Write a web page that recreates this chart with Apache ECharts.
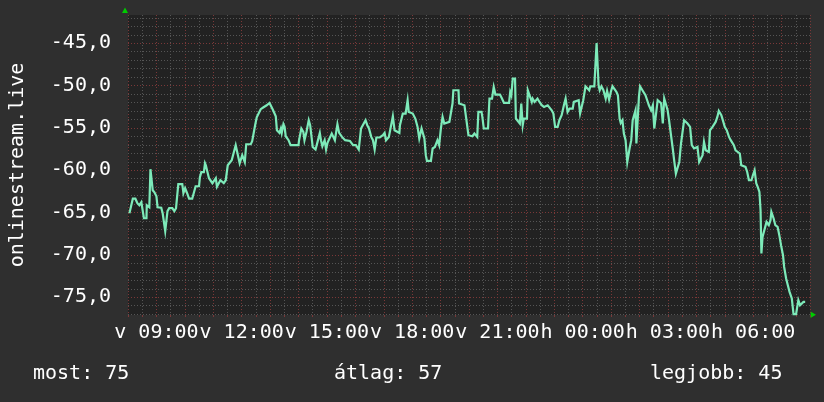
<!DOCTYPE html>
<html><head><meta charset="utf-8">
<script src="https://cdn.jsdelivr.net/npm/echarts@6/dist/echarts.min.js"></script>
<style>html,body{margin:0;padding:0;background:#2f2f2f;}#c{width:824px;height:402px;}</style>
</head><body><div id="c"></div>
<script>
// [hour since 00:00 of first day, value]
const samples = [
[8.05,-65.08],[8.12,-65.08],[8.17,-63.36],[8.26,-63.36],[8.33,-63.89],[8.40,-64.13],[8.47,-63.78],[8.52,-63.89],
[8.56,-65.67],[8.65,-65.67],[8.66,-64.13],[8.75,-64.37],[8.79,-59.88],[8.84,-60.0],[8.87,-62.36],[8.93,-62.6],
[9.00,-63.07],[9.04,-64.37],[9.17,-64.43],[9.22,-65.08],[9.28,-65.19],[9.31,-67.2],[9.36,-67.2],[9.39,-64.84],
[9.45,-64.48],[9.56,-64.48],[9.59,-64.37],[9.63,-64.84],[9.69,-64.48],[9.77,-61.65],[9.91,-61.65],[9.95,-62.71],
[10.01,-62.12],[10.08,-62.71],[10.15,-63.36],[10.26,-63.36],[10.33,-63.42],[10.38,-61.89],[10.50,-61.89],[10.53,-60.82],
[10.58,-60.23],[10.67,-60.23],[10.71,-59.17],[10.74,-59.41],[10.78,-60.0],[10.85,-60.94],[10.92,-60.94],[10.97,-61.53],
[11.02,-61.53],[11.09,-60.94],[11.13,-61.95],[11.20,-62.0],[11.25,-61.18],[11.30,-61.18],[11.37,-61.53],[11.44,-61.18],
[11.51,-59.41],[11.58,-59.41],[11.65,-58.82],[11.72,-58.82],[11.79,-57.04],[11.86,-57.04],[11.93,-59.17],[11.99,-59.17],
[12.02,-58.22],[12.07,-58.34],[12.11,-59.05],[12.16,-56.93],[12.32,-56.93],[12.37,-56.57],[12.42,-56.57],[12.48,-54.56],
[12.53,-53.74],[12.60,-53.74],[12.67,-52.79],[12.77,-52.56],[12.88,-52.32],[12.98,-52.05],[13.05,-52.05],[13.09,-52.79],
[13.16,-52.91],[13.20,-53.62],[13.24,-55.27],[13.33,-55.59],[13.38,-55.07],[13.41,-55.59],[13.47,-54.56],[13.51,-54.88],
[13.55,-55.98],[13.65,-56.45],[13.72,-57.04],[14.00,-57.04],[14.02,-56.45],[14.10,-55.07],[14.17,-55.47],[14.21,-56.45],
[14.28,-55.47],[14.36,-54.09],[14.41,-54.68],[14.46,-54.8],[14.50,-57.25],[14.57,-57.25],[14.60,-57.55],[14.67,-56.65],
[14.75,-55.59],[14.79,-56.45],[14.84,-57.16],[14.92,-56.45],[14.97,-57.55],[15.02,-56.77],[15.07,-56.54],[15.17,-55.66],
[15.28,-56.45],[15.37,-54.56],[15.43,-55.59],[15.53,-56.06],[15.64,-56.45],[15.81,-56.54],[15.92,-57.04],[16.02,-57.04],
[16.12,-57.55],[16.20,-55.07],[16.27,-55.27],[16.36,-54.09],[16.42,-54.68],[16.48,-55.07],[16.56,-56.06],[16.62,-56.45],
[16.68,-57.55],[16.74,-56.13],[16.86,-56.13],[16.97,-55.86],[17.03,-55.59],[17.08,-56.45],[17.18,-56.06],[17.25,-56.06],
[17.32,-53.62],[17.38,-55.27],[17.55,-55.59],[17.57,-54.68],[17.67,-53.3],[17.77,-53.3],[17.84,-51.73],[17.88,-53.11],
[18.02,-53.3],[18.11,-53.89],[18.19,-54.88],[18.25,-56.25],[18.33,-55.07],[18.37,-55.07],[18.43,-56.25],[18.48,-58.22],
[18.52,-58.9],[18.66,-58.9],[18.72,-57.43],[18.80,-57.25],[18.89,-56.45],[18.95,-57.04],[19.01,-55.07],[19.07,-53.7],
[19.13,-54.48],[19.31,-54.29],[19.36,-54.41],[19.42,-52.12],[19.45,-50.55],[19.63,-50.55],[19.65,-52.12],[19.84,-52.32],
[19.91,-52.52],[19.98,-55.86],[20.12,-55.98],[20.19,-55.66],[20.26,-55.66],[20.29,-56.06],[20.33,-53.11],[20.44,-53.11],
[20.47,-53.7],[20.52,-55.07],[20.67,-55.07],[20.72,-51.53],[20.81,-51.53],[20.87,-50.16],[20.93,-51.06],[21.09,-51.06],
[21.16,-51.53],[21.23,-52.05],[21.41,-52.05],[21.45,-50.75],[21.49,-51.14],[21.54,-49.17],[21.62,-49.17],[21.65,-53.89],
[21.79,-54.48],[21.84,-52.12],[21.89,-54.68],[21.93,-53.89],[22.04,-53.89],[22.07,-50.55],[22.14,-50.55],[22.21,-51.93],
[22.24,-51.53],[22.31,-51.93],[22.41,-51.53],[22.48,-51.93],[22.56,-52.32],[22.64,-52.52],[22.77,-52.32],[22.84,-52.32],
[22.91,-52.91],[22.97,-53.3],[23.03,-54.88],[23.12,-54.88],[23.18,-54.09],[23.26,-53.5],[23.34,-52.32],[23.40,-51.53],
[23.44,-51.53],[23.47,-53.11],[23.54,-52.71],[23.65,-52.71],[23.69,-51.93],[23.75,-51.73],[23.86,-51.73],[23.91,-53.3],
[23.96,-53.3],[24.02,-51.73],[24.10,-50.08],[24.23,-50.55],[24.27,-50.08],[24.41,-50.08],[24.47,-50.08],[24.49,-44.96],
[24.53,-44.96],[24.56,-49.96],[24.60,-50.55],[24.66,-50.08],[24.73,-50.55],[24.81,-51.53],[24.86,-50.63],[24.93,-51.65],
[24.99,-50.75],[25.05,-50.08],[25.12,-50.08],[25.19,-50.75],[25.24,-51.14],[25.30,-53.89],[25.34,-54.41],[25.40,-54.09],
[25.45,-55.66],[25.51,-56.45],[25.57,-59.02],[25.62,-59.02],[25.65,-57.43],[25.71,-56.45],[25.76,-54.09],[25.83,-54.09],
[25.86,-52.91],[25.89,-56.84],[25.94,-56.84],[25.98,-51.34],[26.02,-50.08],[26.09,-50.08],[26.14,-50.75],[26.21,-51.14],
[26.27,-51.73],[26.33,-52.32],[26.41,-52.91],[26.47,-52.32],[26.52,-55.07],[26.58,-55.07],[26.64,-51.73],[26.71,-51.73],
[26.76,-52.08],[26.82,-54.48],[26.87,-51.53],[26.90,-51.34],[26.94,-51.34],[26.99,-52.91],[27.04,-54.09],[27.11,-54.09],
[27.17,-57.43],[27.22,-58.82],[27.28,-60.39],[27.34,-60.39],[27.40,-59.02],[27.46,-56.84],[27.52,-56.84],[27.57,-54.09],
[27.62,-54.09],[27.69,-54.48],[27.78,-54.88],[27.84,-57.04],[27.92,-57.43],[27.96,-57.43],[28.04,-57.25],[28.10,-59.02],
[28.16,-59.21],[28.22,-58.22],[28.27,-56.65],[28.33,-57.64],[28.39,-57.84],[28.44,-57.84],[28.48,-55.27],[28.57,-54.88],
[28.62,-54.68],[28.68,-54.29],[28.74,-53.7],[28.79,-52.99],[28.83,-52.99],[28.88,-53.5],[28.95,-54.29],[29.00,-54.88],
[29.07,-55.27],[29.15,-56.06],[29.21,-56.45],[29.27,-56.65],[29.32,-57.04],[29.38,-57.64],[29.44,-57.84],[29.53,-58.02],
[29.58,-59.41],[29.65,-59.52],[29.73,-59.61],[29.79,-60.2],[29.85,-61.18],[29.94,-61.18],[29.99,-60.59],[30.05,-60.0],
[30.11,-61.57],[30.16,-61.97],[30.22,-62.56],[30.26,-64.72],[30.29,-69.83],[30.33,-67.87],[30.40,-67.67],[30.47,-66.1],
[30.55,-66.49],[30.61,-65.9],[30.64,-64.92],[30.72,-65.7],[30.78,-66.49],[30.86,-66.69],[30.92,-67.67],[30.98,-68.85],
[31.05,-70.04],[31.09,-71.42],[31.16,-72.79],[31.22,-73.58],[31.28,-74.37],[31.36,-75.15],[31.42,-77.0],[31.51,-77.0],
[31.59,-75.35],[31.65,-75.94],[31.72,-75.94],[31.77,-75.55],[31.83,-75.55]
];
const xTickHours = [9, 12, 15, 18, 21, 24, 27, 30];
const xTickLabels = ['v 09:00', 'v 12:00', 'v 15:00', 'v 18:00', 'v 21:00', 'h 00:00', 'h 03:00', 'h 06:00'];
const yTickValues = [-75, -70, -65, -60, -55, -50, -45];
const yTickLabels = ['-75,0', '-70,0', '-65,0', '-60,0', '-55,0', '-50,0', '-45,0'];
const yAxisTitle = 'onlinestream.live';
const statLabels = ['most: 75', 'átlag: 57', 'legjobb: 45'];

const FONT = '"DejaVu Sans Mono", monospace';
const MAJOR = '#7a3838';
const MINOR = '#555555';
const LINE = '#7deab9';
const ARROW = '#00cc00';
const yMin = -77.10, yMax = -41.66;

const hLines = [];
for (let v = Math.ceil(yMin); v <= Math.floor(yMax); v++) {
  hLines.push({ yAxis: v, lineStyle: { color: v % 5 === 0 ? MAJOR : MINOR, type: [1, 2], width: 1 } });
}

const chart = echarts.init(document.getElementById('c'), null, { renderer: 'canvas' });
chart.setOption({
  backgroundColor: '#2f2f2f',
  animation: false,
  grid: { left: 124, right: 14, top: 15, bottom: 87, show: true, backgroundColor: '#222222', borderWidth: 0 },
  xAxis: {
    type: 'value', min: 8, max: 32, interval: 0.5,
    axisLine: { show: false },
    axisTick: { show: true, length: 2, lineStyle: { color: MAJOR } },
    splitLine: { show: true, lineStyle: { color: [MAJOR, MINOR], type: [1, 2], width: 1 } },
    axisLabel: {
      customValues: xTickHours,
      formatter: v => { const i = xTickHours.indexOf(v); return i >= 0 ? xTickLabels[i] : ''; },
      color: '#ffffff', fontFamily: FONT, fontSize: 20, margin: 8
    }
  },
  yAxis: {
    type: 'value', min: yMin, max: yMax,
    name: yAxisTitle, nameLocation: 'middle', nameRotate: 90, nameGap: 100,
    nameTextStyle: { color: '#ffffff', fontFamily: FONT, fontSize: 20 },
    axisLine: { show: false }, axisTick: { show: false }, splitLine: { show: false },
    axisLabel: {
      customValues: yTickValues,
      formatter: v => { const i = yTickValues.indexOf(v); return i >= 0 ? yTickLabels[i] : ''; },
      color: '#ffffff', fontFamily: FONT, fontSize: 20, margin: 17
    }
  },
  series: [
    {
      type: 'line', data: samples, z: 1, silent: true,
      showSymbol: false, lineStyle: { opacity: 0 },
      markLine: { silent: true, symbol: 'none', label: { show: false }, animation: false, data: hLines }
    },
    {
      type: 'line', data: samples, z: 5, showSymbol: false, clip: true,
      lineStyle: { color: LINE, width: 2.2, join: 'miter' }
    }
  ],
  graphic: [
    { type: 'polygon', shape: { points: [[122, 13], [128, 13], [125, 7.5]] }, style: { fill: ARROW } },
    { type: 'polygon', shape: { points: [[810.5, 311.5], [810.5, 318], [816, 314.75]] }, style: { fill: ARROW } },
    { type: 'text', x: 33, y: 374, style: { text: statLabels[0], fill: '#ffffff', font: '20px ' + FONT, verticalAlign: 'middle' } },
    { type: 'text', x: 334, y: 374, style: { text: statLabels[1], fill: '#ffffff', font: '20px ' + FONT, verticalAlign: 'middle' } },
    { type: 'text', x: 650, y: 374, style: { text: statLabels[2], fill: '#ffffff', font: '20px ' + FONT, verticalAlign: 'middle' } }
  ]
});
</script></body></html>
